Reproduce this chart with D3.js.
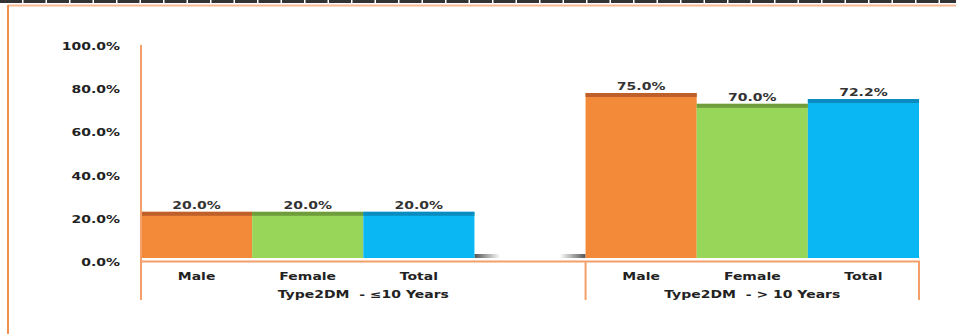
<!DOCTYPE html>
<html>
<head>
<meta charset="utf-8">
<script src="https://cdn.jsdelivr.net/npm/d3@7"></script>
<style>
	body { margin: 0; background: #fff; }
	svg { display: block; }
	text { font-family: "DejaVu Sans", sans-serif; font-weight: bold; white-space: pre; }
</style>
</head>
<body>
<script>
const groups = ["Type2DM  - \u226410 Years", "Type2DM  - > 10 Years"];
const categories = ["Male", "Female", "Total"];
const values_le10 = [0.20, 0.20, 0.20];
const values_gt10 = [0.75, 0.70, 0.722];
const ticks = [0, 0.2, 0.4, 0.6, 0.8, 1.0];

const colors = ["#f38a3a", "#97d659", "#0bb7f3"];
const caps = ["#bf5f2a", "#6f9d3c", "#0a8cc0"];

const W = 956, H = 334;
const SX = 1.4; // stretched glyphs, like the picture

const svg = d3.select("body").append("svg")
	.attr("width", W)
	.attr("height", H);

const defs = svg.append("defs");
const fade = (id, a, b) => {
	const g = defs.append("linearGradient").attr("id", id);
	g.append("stop").attr("offset", 0).attr("stop-color", "#555").attr("stop-opacity", a);
	g.append("stop").attr("offset", 1).attr("stop-color", "#555").attr("stop-opacity", b);
};
fade("fade-r", 1, 0);
fade("fade-l", 0, 1);

// frame
svg.append("line")
	.attr("x1", 0).attr("x2", W).attr("y1", 1.5).attr("y2", 1.5)
	.attr("stroke", "#333").attr("stroke-width", 3)
	.attr("stroke-dasharray", "22,1.5");
svg.append("line")
	.attr("x1", 8).attr("x2", W).attr("y1", 5.5).attr("y2", 5.5)
	.attr("stroke", "#f8b994").attr("stroke-width", 2);
svg.append("line")
	.attr("x1", 8).attr("x2", 8).attr("y1", 5).attr("y2", H)
	.attr("stroke", "#f0914e").attr("stroke-width", 2);

// 7 slots: 3 bars, one empty, 3 bars
const slots = d3.range(7);
const x = d3.scaleBand().domain(slots).range([141, 919]).padding(0);
const y = d3.scaleLinear().domain([0, 1]).range([262, 46]);

const bars = [];
values_le10.forEach((v, i) => bars.push({ slot: i, v, i }));
values_gt10.forEach((v, i) => bars.push({ slot: i + 4, v, i }));

const dy = -7;      // 3d lift of the bar tops
const floor = 258;

function stext(sel, tx, ty, str, size, fill, anchor) {
	return sel.append("text")
		.attr("transform", `translate(${tx},${ty}) scale(${SX},1)`)
		.attr("text-anchor", anchor || "middle")
		.attr("font-size", size)
		.attr("fill", fill || "#222")
		.text(str);
}

// y labels
const gy = svg.append("g");
ticks.forEach(t => stext(gy, 120, y(t) + 4, d3.format(".1%")(t), 10, "#222", "end"));

// floor shadow in the empty slot
const gap = x(3);
svg.append("rect")
	.attr("x", gap).attr("y", floor - 4).attr("width", 26).attr("height", 4)
	.attr("fill", "url(#fade-r)");
svg.append("rect")
	.attr("x", gap + x.bandwidth() - 26).attr("y", floor - 4).attr("width", 26).attr("height", 4)
	.attr("fill", "url(#fade-l)");

// bars
const gb = svg.append("g");
gb.selectAll("rect.bar")
	.data(bars)
	.enter().append("rect")
	.attr("class", "bar")
	.attr("x", d => x(d.slot))
	.attr("y", d => y(d.v) + dy)
	.attr("width", x.bandwidth())
	.attr("height", d => floor - (y(d.v) + dy))
	.attr("fill", d => colors[d.i]);

gb.selectAll("rect.cap")
	.data(bars)
	.enter().append("rect")
	.attr("class", "cap")
	.attr("x", d => x(d.slot))
	.attr("y", d => y(d.v) + dy)
	.attr("width", x.bandwidth())
	.attr("height", 4)
	.attr("fill", d => caps[d.i]);

bars.forEach(d => stext(gb, x(d.slot) + x.bandwidth() / 2, y(d.v) + dy - 3, d3.format(".1%")(d.v), 10, "#333"));

// axes
const axis = "#f3a06a";
svg.append("line")
	.attr("x1", 141).attr("x2", 141).attr("y1", 45).attr("y2", 300)
	.attr("stroke", axis).attr("stroke-width", 2);
svg.append("line")
	.attr("x1", 141).attr("x2", 920).attr("y1", 261.5).attr("y2", 261.5)
	.attr("stroke", axis).attr("stroke-width", 2);
[x(4), x(6) + x.bandwidth()].forEach(px => svg.append("line")
	.attr("x1", px).attr("x2", px).attr("y1", 261).attr("y2", 300)
	.attr("stroke", axis).attr("stroke-width", 2));

// category + group labels
const gx = svg.append("g");
bars.forEach(d => stext(gx, x(d.slot) + x.bandwidth() / 2, 280, categories[d.i], 10, "#222"));
stext(gx, (x(0) + x(3) + x.bandwidth()) / 2, 298, groups[0], 10, "#222");
stext(gx, (x(4) + x(6) + x.bandwidth()) / 2, 298, groups[1], 10, "#222");
</script>
</body>
</html>
